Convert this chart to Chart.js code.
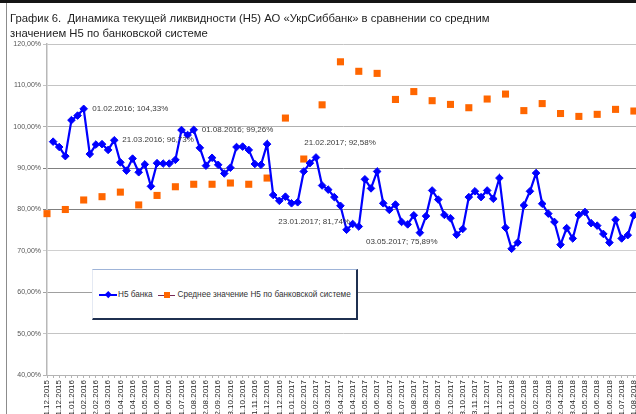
<!DOCTYPE html>
<html>
<head>
<meta charset="utf-8">
<script src="https://cdn.jsdelivr.net/npm/chart.js@4.4.1/dist/chart.umd.min.js"></script>
<style>
  html, body { margin: 0; padding: 0; background: #fff; }
  body { width: 636px; height: 414px; overflow: hidden; position: relative; font-family: "Liberation Sans", Arial, sans-serif; }
  #topbar { position: absolute; left: 0; top: 0; width: 636px; height: 3px; background: #151515; }
  #leftline { position: absolute; left: 6px; top: 3px; width: 1px; height: 411px; background: #8c8c8c; }
  #title { position: absolute; left: 10px; top: 10.5px; font-size: 11.3px; line-height: 15.5px; color: #1e1e1e; white-space: nowrap; }
  #chart { position: absolute; left: 0; top: 0; }
  #legend { position: absolute; left: 92px; top: 269px; width: 263px; height: 48px; background: #fff;
            border-top: 1px solid #9fb4d8; border-left: 1px solid #e4e9f3; border-right: 2px solid #1f3050; border-bottom: 2px solid #1f3050; }
  .lg { position: absolute; font-size: 8.2px; line-height: 10px; color: #333; white-space: nowrap; }
  .ln { position: absolute; height: 1.4px; }
  .mk { position: absolute; }
</style>
</head>
<body>
<canvas id="chart" width="645" height="440"></canvas>
<div id="topbar"></div>
<div id="leftline"></div>
<div id="title">График 6.&nbsp; Динамика текущей ликвидности (Н5) АО «УкрСиббанк» в сравнении со средним<br>значением Н5 по банковской системе</div>
<div id="legend"></div>
<script>
// ---- data ----
const dateLabels = [
  "01.12.2015","11.12.2015","21.12.2015","01.01.2016","11.01.2016","21.01.2016",
  "01.02.2016","11.02.2016","22.02.2016","01.03.2016","11.03.2016","21.03.2016",
  "01.04.2016","11.04.2016","21.04.2016","01.05.2016","11.05.2016","21.05.2016",
  "01.06.2016","11.06.2016","21.06.2016","01.07.2016","11.07.2016","21.07.2016",
  "01.08.2016","11.08.2016","22.08.2016","01.09.2016","12.09.2016","21.09.2016",
  "03.10.2016","11.10.2016","21.10.2016","01.11.2016","11.11.2016","21.11.2016",
  "01.12.2016","11.12.2016","21.12.2016","01.01.2017","11.01.2017","23.01.2017",
  "01.02.2017","11.02.2017","21.02.2017","01.03.2017","13.03.2017","21.03.2017",
  "03.04.2017","11.04.2017","21.04.2017","03.05.2017","11.05.2017","21.05.2017",
  "01.06.2017","11.06.2017","21.06.2017","01.07.2017","11.07.2017","21.07.2017",
  "01.08.2017","11.08.2017","21.08.2017","01.09.2017","11.09.2017","21.09.2017",
  "02.10.2017","11.10.2017","23.10.2017","01.11.2017","13.11.2017","21.11.2017",
  "01.12.2017","11.12.2017","21.12.2017","01.01.2018","11.01.2018","21.01.2018",
  "01.02.2018","11.02.2018","21.02.2018","01.03.2018","12.03.2018","21.03.2018",
  "02.04.2018","11.04.2018","23.04.2018","01.05.2018","11.05.2018","21.05.2018",
  "01.06.2018","11.06.2018","21.06.2018","01.07.2018","11.07.2018","21.07.2018",
  "01.08.2018","11.08.2018"
];

// Н5 банка (%), one value per category; first category has no value
const bankH5 = [
  null, 96.4, 95.1, 92.9, 101.6, 102.7,
  104.33, 93.4, 95.7, 95.8, 94.4, 96.73,
  91.4, 89.4, 92.3, 89.0, 90.9, 85.6,
  91.2, 91.1, 91.1, 92.0, 99.2, 98.0,
  99.26, 94.9, 90.6, 92.5, 90.8, 88.7,
  90.1, 95.1, 95.2, 94.4, 91.0, 90.8,
  95.8, 83.5, 82.1, 83.1, 81.5, 81.74,
  89.2, 91.2, 92.58, 85.8, 84.8, 83.0,
  80.9, 75.1, 76.5, 75.89, 87.3, 85.1,
  89.2, 81.5, 79.9, 81.2, 77.0, 76.4,
  78.6, 74.4, 78.4, 84.6, 82.4, 78.7,
  77.9, 73.9, 75.3, 83.0, 84.4, 83.0,
  84.6, 82.6, 87.6, 75.6, 70.5, 72.0,
  81.0, 84.4, 88.8, 81.4, 79.0, 77.0,
  71.5, 75.5, 73.0, 78.7, 79.4, 76.7,
  76.1, 74.1, 72.0, 77.5, 73.0, 73.8,
  78.6, null
];

// Среднее значение Н5 по банковской системе (%), monthly: first day of each month from 01.12.2015
const systemAvgH5 = [
  79.0, 80.0, 82.3, 83.1, 84.2, 81.1, 83.4, 85.5, 86.1, 86.1, 86.4,
  86.1, 87.6, 102.1, 92.2, 105.3, 115.7, 113.4, 112.9, 106.6, 108.5,
  106.3, 105.4, 104.6, 106.7, 107.9, 103.9, 105.6, 103.2, 102.5, 103.0,
  104.2, 103.8
];
const monthlyStep = 3; // monthly value sits on every third (1st-of-month) category

// y-axis range and ticks (%)
const yMin = 40, yMax = 120, yStep = 10;

// annotated points (category index)
const annotatedIdx = [6, 11, 24, 41, 44, 51];

const seriesNames = ["Н5 банка", "Среднее значение Н5 по банковской системе"];

// ---- build ----
const avgSeries = dateLabels.map(() => null);
systemAvgH5.forEach((v, k) => { avgSeries[k * monthlyStep] = v; });

const fmtPct = v => v.toFixed(2).replace('.', ',') + '%';

// label placement offsets (px) relative to each annotated point
const annotOffsets = { 6: [8.5, 0, 'left'], 11: [8, 0, 'left'], 24: [8, 0, 'left'], 41: [16.5, 19, 'center'], 44: [24, -15, 'center'], 51: [43, 15.5, 'center'] };

const gridColors = { 120: '#c4c4c4', 110: '#c4c4c4', 100: '#b0b0b0', 90: '#808080', 80: '#808080', 70: '#d0d0d0', 60: '#a0a0a0', 50: '#c4c4c4', 40: '#b4b4b4' };

const annotPlugin = {
  id: 'annot',
  afterDatasetsDraw(chart) {
    const { ctx, scales } = chart;
    ctx.save();
    ctx.font = '8px "Liberation Sans", Arial, sans-serif';
    ctx.fillStyle = '#3a3a3a';
    ctx.textBaseline = 'middle';
    annotatedIdx.forEach(i => {
      const x = scales.x.getPixelForValue(i);
      const y = scales.y.getPixelForValue(bankH5[i]);
      const o = annotOffsets[i];
      ctx.textAlign = o[2];
      ctx.fillText(dateLabels[i] + '; ' + fmtPct(bankH5[i]), x + o[0], y + o[1]);
    });
    ctx.restore();
  }
};

Chart.defaults.font.family = '"Liberation Sans", Arial, sans-serif';

new Chart(document.getElementById('chart'), {
  type: 'line',
  data: {
    labels: dateLabels,
    datasets: [
      {
        label: seriesNames[0], data: bankH5,
        borderColor: '#0000ff', backgroundColor: '#0000ff', borderWidth: 2.2,
        pointStyle: 'rectRot', pointRadius: 3.8, pointBorderWidth: 1,
        tension: 0, clip: false
      },
      {
        label: seriesNames[1], data: avgSeries, showLine: false,
        borderColor: '#ff6600', backgroundColor: '#ff6600',
        pointStyle: 'rect', pointRadius: 5, pointBorderWidth: 0, clip: false
      }
    ]
  },
  options: {
    responsive: false, animation: false, devicePixelRatio: 1,
    layout: { padding: { left: 0, top: 44, right: 0, bottom: 0 } },
    plugins: { legend: { display: false }, tooltip: { enabled: false }, title: { display: false } },
    scales: {
      x: {
        type: 'category', offset: false,
        grid: { display: true, drawOnChartArea: false, drawTicks: true, tickLength: 3, color: '#b4b4b4' },
        border: { display: true, color: '#b4b4b4', width: 1 },
        ticks: {
          autoSkip: false, minRotation: 90, maxRotation: 90, padding: 2,
          font: { size: 8 }, color: '#262626',
          callback: (v, i) => (i % 2 === 0 ? dateLabels[i] : '')
        },
        afterFit(scale) { scale.height = 65; scale.paddingLeft = 0; scale.paddingRight = 0; }
      },
      y: {
        min: yMin, max: yMax,
        grid: { color: ctx => gridColors[ctx.tick && ctx.tick.value] || '#c4c4c4', tickLength: 4, lineWidth: 1 },
        border: { display: true, color: '#b8b8b8', width: 1.5 },
        ticks: { stepSize: yStep, padding: 2, font: { size: 7 }, color: '#555', callback: v => fmtPct(v) },
        afterFit(scale) { scale.width = 47; scale.paddingTop = 0; scale.paddingBottom = 0; }
      }
    }
  },
  plugins: [annotPlugin]
});

// ---- legend (HTML) ----
const lg = document.getElementById('legend');
const L = (html) => { lg.insertAdjacentHTML('beforeend', html); };
// positions relative to legend box (left 92, top 269)
L('<div class="ln" style="left:6px;top:24.3px;width:18px;background:#0000ff"></div>');
L('<div class="mk" style="left:12.6px;top:22.3px;width:4.5px;height:4.5px;background:#0000ff;transform:rotate(45deg)"></div>');
L('<div class="lg" style="left:25px;top:19.5px">' + seriesNames[0] + '</div>');
L('<div class="ln" style="left:65px;top:24.5px;width:17px;height:1px;background:#7a2a55"></div>');
L('<div class="mk" style="left:70.5px;top:21.8px;width:6.5px;height:6.5px;background:#ff6600"></div>');
L('<div class="lg" style="left:84.5px;top:19.5px">' + seriesNames[1] + '</div>');
</script>
</body>
</html>
